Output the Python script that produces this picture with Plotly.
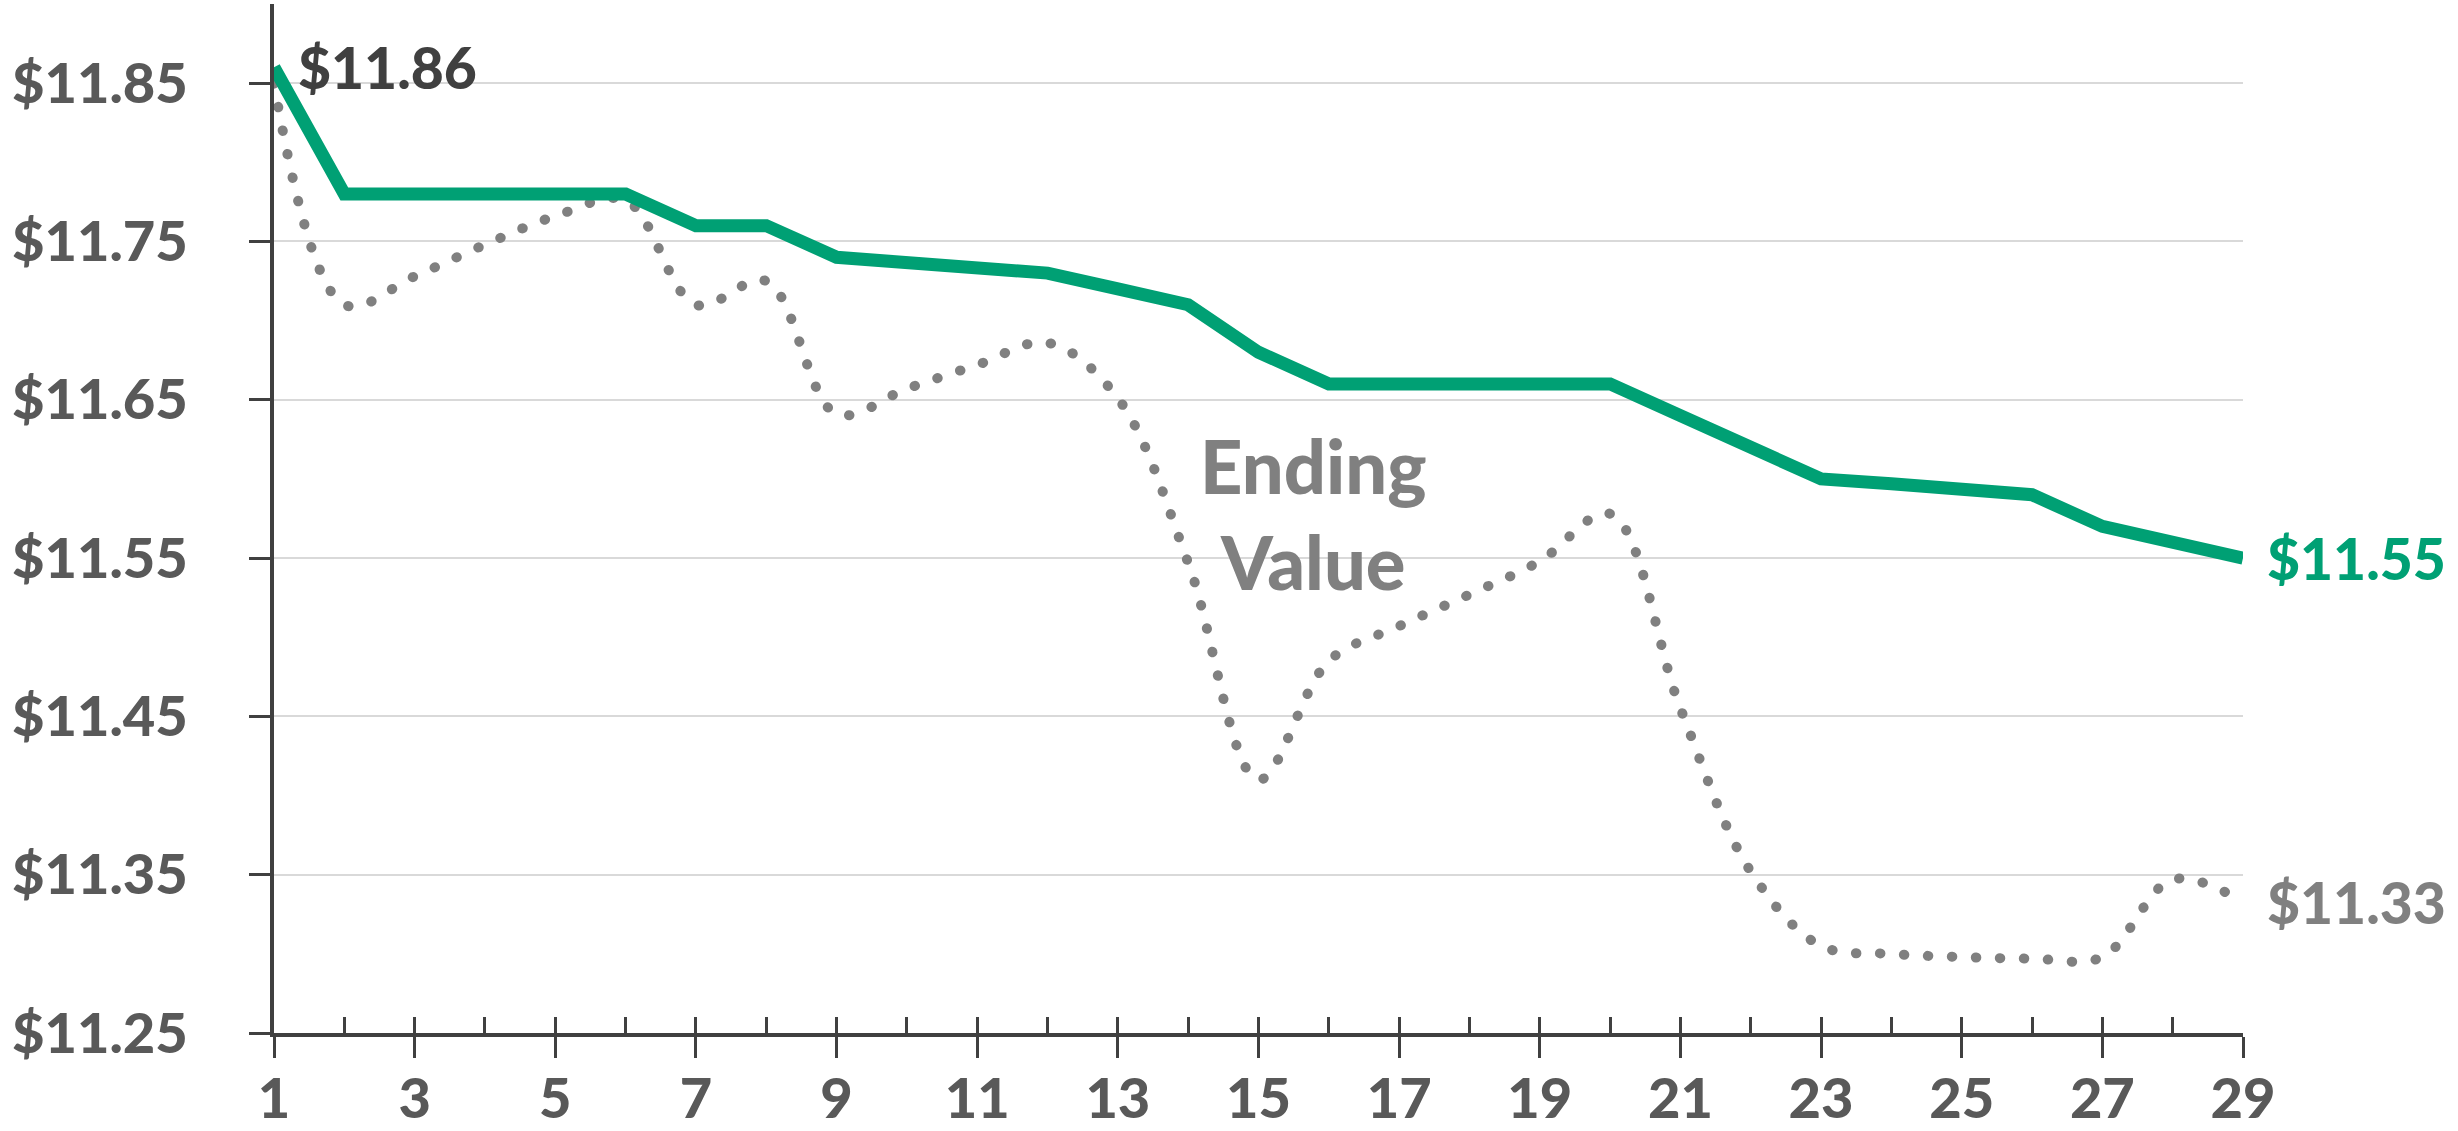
import plotly.graph_objects as go

days = list(range(1, 30))
avg_cost = [11.86, 11.78, 11.78, 11.78, 11.78, 11.78, 11.76, 11.76, 11.74, 11.737,
            11.733, 11.73, 11.72, 11.71, 11.68, 11.66, 11.66, 11.66, 11.66, 11.66,
            11.64, 11.62, 11.60, 11.597, 11.593, 11.59, 11.57, 11.56, 11.55]
ending_value = [11.85, 11.71, 11.728, 11.748, 11.766, 11.776, 11.71, 11.725, 11.641, 11.657,
                11.672, 11.686, 11.651, 11.547, 11.41, 11.485, 11.507, 11.527, 11.548, 11.578,
                11.455, 11.352, 11.305, 11.300, 11.298, 11.297, 11.298, 11.347, 11.333]
y_ticks = [11.25, 11.35, 11.45, 11.55, 11.65, 11.75, 11.85]
x_ticks = list(range(1, 30, 2))

GREEN = "#00a074"
GRAY = "#808080"
DARK = "#404040"
TICK = "#595959"
FONT = "Lato"
W = 900

fig = go.Figure()
fig.add_trace(go.Scatter(x=days, y=ending_value, mode="lines",
                         line=dict(color=GRAY, width=10, dash="0.5px,23.5px", shape="spline"),
                         hoverinfo="skip", showlegend=False))
fig.add_trace(go.Scatter(x=days, y=avg_cost, mode="lines",
                         line=dict(color=GREEN, width=13),
                         hoverinfo="skip", showlegend=False))

fig.add_annotation(x=days[0], y=avg_cost[0], text="$%.2f" % avg_cost[0], showarrow=False,
                   xanchor="left", yanchor="middle", xshift=22,
                   font=dict(family=FONT, size=57, color=DARK, weight=W))
fig.add_annotation(x=days[-1], y=avg_cost[-1], text="$%.2f" % avg_cost[-1], showarrow=False,
                   xanchor="left", yanchor="middle", xshift=22,
                   font=dict(family=FONT, size=57, color=GREEN, weight=W))
fig.add_annotation(x=days[-1], y=ending_value[-1], text="$%.2f" % ending_value[-1], showarrow=False,
                   xanchor="left", yanchor="middle", xshift=22,
                   font=dict(family=FONT, size=57, color=GRAY, weight=W))
fig.add_annotation(x=15.78, y=11.578, text="Ending<br>Value", showarrow=False,
                   xanchor="center", yanchor="middle",
                   font=dict(family=FONT, size=74, color=GRAY, weight=W))

fig.update_layout(
    width=2458, height=1131,
    margin=dict(l=274, r=215, t=4, b=98, autoexpand=False),
    paper_bgcolor="white", plot_bgcolor="white",
    font=dict(family=FONT, size=56, color=TICK, weight=W),
    xaxis=dict(range=[1, 29], tickvals=x_ticks, ticks="outside", ticklen=21, tickwidth=3,
               tickcolor=DARK, showline=True, linecolor=DARK, linewidth=4,
               showgrid=False, zeroline=False, ticklabelstandoff=-7, automargin=False,
               tickfont=dict(family=FONT, size=56, color=TICK, weight=W)),
    xaxis2=dict(range=[1, 29], overlaying="x", anchor="y", side="bottom",
                tickvals=days, ticks="inside", ticklen=16, tickwidth=3, tickcolor=DARK,
                showticklabels=False, showline=False, showgrid=False, zeroline=False,
                automargin=False),
    yaxis=dict(range=[11.25, 11.9], tickvals=y_ticks, tickformat="$.2f",
               ticks="outside", ticklen=21, tickwidth=3, tickcolor=DARK,
               showline=True, linecolor=DARK, linewidth=4,
               showgrid=True, gridcolor="#d9d9d9", gridwidth=2, zeroline=False,
               ticklabelstandoff=50, automargin=False,
               tickfont=dict(family=FONT, size=56, color=TICK, weight=W)),
)
fig.add_trace(go.Scatter(x=[days[0]], y=[y_ticks[0]], xaxis="x2", mode="markers",
                         marker=dict(opacity=0), hoverinfo="skip", showlegend=False))

post = ("document.body.style.margin='0';document.body.style.overflow='hidden';"
        "var gd=document.getElementById('{plot_id}');"
        "var tr=gd.querySelectorAll('.scatterlayer .trace');"
        "if(tr.length){tr[0].querySelectorAll('path.js-line').forEach(function(p){p.style.strokeLinecap='round';});}")
fig.write_html("out.html", post_script=post, config={"displayModeBar": False})
